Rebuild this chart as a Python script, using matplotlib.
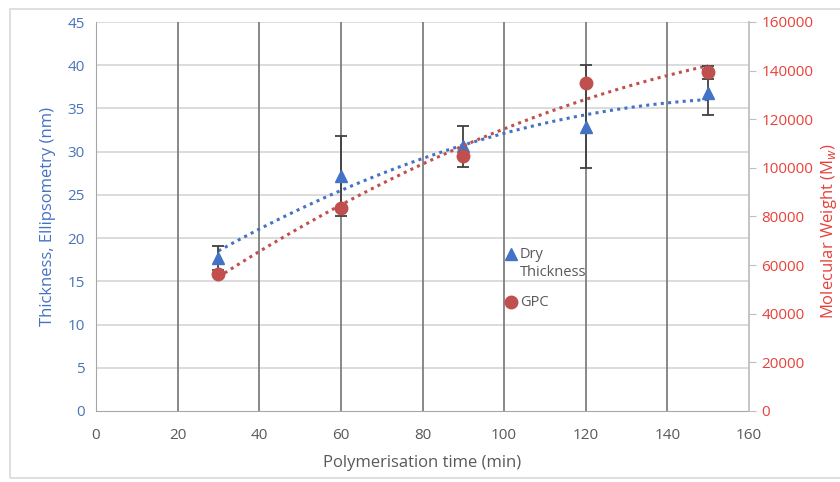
import numpy as np
import matplotlib.pyplot as plt
from matplotlib.lines import Line2D
from matplotlib.patches import Rectangle

plt.rcParams['font.family'] = ['Open Sans', 'DejaVu Sans']

# polymerisation time (min)
time_min = [30, 60, 90, 120, 150]

# dry thickness by ellipsometry (nm), error bars
thickness = [17.7, 27.2, 30.6, 32.8, 36.8]
thickness_err_lo = [1.4, 4.6, 2.4, 4.7, 2.6]
thickness_err_hi = [1.4, 4.6, 2.4, 7.2, 2.6]

# GPC molecular weight (Mw)
mw = [56500, 83400, 105000, 135000, 139300]
mw_err = [0, 0, 0, 0, 2700]

blue = '#4472C4'
red = '#C0504D'
red_txt = '#E8413A'
grey_txt = '#595959'

W, H = 840, 482


def fx(px):
    return px / W


def fy(py):
    return 1 - py / H


fig = plt.figure(figsize=(8.4, 4.82), dpi=100)
fig.patches.append(Rectangle((fx(10), fy(478)), 835 / W, 469 / H,
                             transform=fig.transFigure, fill=False,
                             edgecolor='#d9d9d9', linewidth=1.2))

ax = fig.add_axes([fx(96), fy(411), 653 / W, 389 / H])
ax2 = ax.twinx()

ax.set_xlim(0, 160)
ax.set_ylim(0, 45)
ax2.set_ylim(0, 160000)
ax.set_xticks(np.arange(0, 161, 20))
ax.set_yticks(np.arange(0, 46, 5))
ax2.set_yticks(np.arange(0, 160001, 20000))

# gridlines: light horizontal, dark vertical
for yv in np.arange(5, 46, 5):
    ax.axhline(yv, color='#d9d9d9', linewidth=1.3, zorder=0)
for xv in np.arange(20, 141, 20):
    ax.axvline(xv, color='#7f7f7f', linewidth=1.3, zorder=0)

for a in (ax, ax2):
    for s in a.spines.values():
        s.set_visible(False)
ax.spines['left'].set_visible(True)
ax.spines['bottom'].set_visible(True)
ax.spines['left'].set_color('#a6a6a6')
ax.spines['bottom'].set_color('#a6a6a6')
ax2.spines['right'].set_visible(True)
ax2.spines['right'].set_color('#bfbfbf')
ax2.spines['right'].set_linewidth(1.3)

ax.tick_params(axis='y', length=0, labelsize=11, pad=8, labelcolor='#4a74b8')
ax.tick_params(axis='x', length=0, labelsize=11, pad=12, labelcolor=grey_txt)
ax2.tick_params(axis='y', length=5, color='#bfbfbf', labelsize=11,
                labelcolor=red_txt, pad=4)

# trendlines (2nd order polynomial fits to the data)
xs = np.linspace(min(time_min), max(time_min), 200)
ct = np.polyfit(time_min, thickness, 2)
cm = np.polyfit(time_min, mw, 2)
ax.plot(xs, np.polyval(ct, xs), color=blue, linestyle=(0, (1, 1.4)),
        linewidth=2.2, zorder=3)
ax2.plot(xs, np.polyval(cm, xs), color=red, linestyle=(0, (1, 1.4)),
         linewidth=2.2, zorder=3)

ax.errorbar(time_min, thickness, yerr=[thickness_err_lo, thickness_err_hi],
            fmt='^', color=blue, markersize=9, ecolor='#404040',
            elinewidth=1.3, capsize=4, capthick=1.3, zorder=4)
ax2.errorbar(time_min, mw, yerr=mw_err, fmt='o', color=red,
             markersize=9, ecolor='#404040', elinewidth=1.3, capsize=4,
             capthick=1.3, zorder=4)

ax.set_xlabel('Polymerisation time (min)', color=grey_txt, fontsize=12,
              labelpad=9)
ax.set_ylabel('Thickness, Ellipsometry (nm)', color=blue, fontsize=12,
              labelpad=8)
fig.text(fx(829), 0.52, 'Molecular Weight (M$_w$)', color=red_txt,
         fontsize=12, rotation=90, ha='center', va='center')

# legend drawn by hand so the triangle sits on the first line of its label
fig.add_artist(Line2D([fx(511)], [fy(254)], marker='^', color=blue,
                      markersize=9, linestyle='none'))
fig.add_artist(Line2D([fx(511)], [fy(302)], marker='o', color=red,
                      markersize=9, linestyle='none'))
fig.text(fx(520), fy(254), 'Dry', color=grey_txt, fontsize=10.5, va='center')
fig.text(fx(520), fy(273), 'Thickness', color=grey_txt, fontsize=10.5,
         va='center')
fig.text(fx(520), fy(302), 'GPC', color=grey_txt, fontsize=10.5, va='center')

fig.savefig('out.png', dpi=100)
